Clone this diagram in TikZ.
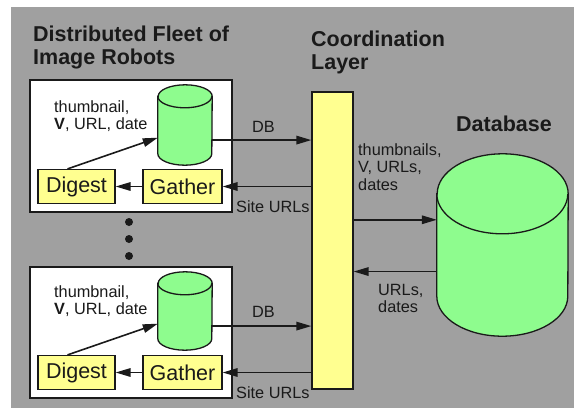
\documentclass[tikz,border=0pt]{standalone}
\usepackage{fontspec}
\setmainfont{Liberation Sans}
\usetikzlibrary{arrows.meta}

\definecolor{bggray}{HTML}{A0A0A0}
\definecolor{dbgreen}{HTML}{8EFC8E}
\definecolor{padyellow}{HTML}{FFFF90}
\definecolor{inkc}{HTML}{1A1A1A}

\tikzset{
  robotbox/.style={draw=inkc, line width=1.6pt, fill=white},
  stagebox/.style={draw=inkc, line width=1.2pt, fill=padyellow, inner sep=0pt,
    minimum height=34pt, font=\fontsize{21.5}{23}\selectfont, text=inkc},
  drumspot/.style={inner sep=0pt, draw=none},
  drumline/.style={draw=inkc, line width=1.3pt},
  heading/.style={font=\fontsize{21.5}{23}\selectfont\bfseries, text=inkc,
    align=left, inner sep=0pt},
  lbl/.style={font=\fontsize{16.3}{17.5}\selectfont, text=inkc, align=left,
    inner sep=0pt},
  flow/.style={-{Triangle[length=15pt,width=8.5pt]}, line width=1.6pt, draw=inkc},
}

% green drum drawn over the box of node #1, end radii #2 (across) and #3 (depth)
\newcommand\drum[3]{%
  \filldraw[drumline, fill=dbgreen]
    ([yshift=-#3]#1.north west) -- ([yshift=#3]#1.south west)
    arc[start angle=180, end angle=360, x radius=#2, y radius=#3]
    -- ([yshift=-#3]#1.north east)
    arc[start angle=0, end angle=180, x radius=#2, y radius=#3] -- cycle;
  \draw[drumline] ([yshift=-#3]#1.north west)
    arc[start angle=180, end angle=360, x radius=#2, y radius=#3];
}

\begin{document}
\begin{tikzpicture}[x=1pt, y=-1pt]
  \useasboundingbox (0,0) rectangle (574,408);
  \fill[bggray] (11,7) rectangle (574,408);

  % headings
  \node[heading, anchor=north west] (fleethead) at (33,26) {Distributed Fleet of\\Image Robots};
  \node[heading, anchor=north west] (coordhead) at (311,31) {Coordination\\Layer};
  \node[heading, anchor=north west] (dbhead) at (456,116) {Database};

  % coordination layer
  \node[draw=inkc, line width=1.3pt, fill=padyellow, minimum width=41pt,
    minimum height=297pt] (layer) at (332.5,240.5) {};

  % upper robot
  \node[robotbox, minimum width=202pt, minimum height=132pt] (robotA) at (131,146) {};
  \node[drumspot, minimum width=54pt, minimum height=80pt] (dbA) at (185,125) {};
  \drum{dbA}{27pt}{11.5pt}
  \node[stagebox, minimum width=77pt] (digestA) at (76.5,186.5) {Digest};
  \node[stagebox, minimum width=79pt] (gatherA) at (182.5,186.5) {Gather};
  \node[lbl, anchor=north west] (infoA) at (54,100) {thumbnail,\\\textbf{V}, URL, date};
  \draw[flow] (digestA.north) ++(-9,0) -- (dbA.205);
  \draw[flow] (gatherA) -- (digestA);
  \draw[flow] (dbA.-29) -- (dbA.-29 -| layer.west);
  \draw[flow] (gatherA.east -| layer.west) -- (gatherA.east);
  \node[lbl, anchor=base west] (dbtagA) at (252,132) {DB};
  \node[lbl, anchor=base west] (sitesA) at (236,212) {Site URLs};

  % more robots
  \fill[inkc] (129,222) circle (4);
  \fill[inkc] (129,239) circle (4);
  \fill[inkc] (129,256) circle (4);

  % lower robot
  \node[robotbox, minimum width=202pt, minimum height=131pt] (robotB) at (131,332.5) {};
  \node[drumspot, minimum width=54pt, minimum height=78pt] (dbB) at (185,311) {};
  \drum{dbB}{27pt}{11.5pt}
  \node[stagebox, minimum width=77pt] (digestB) at (76.5,372.5) {Digest};
  \node[stagebox, minimum width=79pt] (gatherB) at (182.5,372.5) {Gather};
  \node[lbl, anchor=north west] (infoB) at (54,285) {thumbnail,\\\textbf{V}, URL, date};
  \draw[flow] (digestB.north) ++(-9,0) -- (dbB.205);
  \draw[flow] (gatherB) -- (digestB);
  \draw[flow] (dbB.-29) -- (dbB.-29 -| layer.west);
  \draw[flow] (gatherB.east -| layer.west) -- (gatherB.east);
  \node[lbl, anchor=base west] (dbtagB) at (252,317) {DB};
  \node[lbl, anchor=base west] (sitesB) at (236,398) {Site URLs};

  % central database
  \node[drumspot, minimum width=131pt, minimum height=182pt] (bigdb) at (502.5,245) {};
  \drum{bigdb}{65.5pt}{40pt}
  \draw[flow] (bigdb.159 -| layer.east) -- (bigdb.159);
  \draw[flow] (bigdb.202) -- (bigdb.202 -| layer.east);
  \node[lbl, anchor=north west] (pushtag) at (358,143) {thumbnails,\\V, URLs,\\dates};
  \node[lbl, anchor=north west] (pulltag) at (378,284) {URLs,\\dates};
\end{tikzpicture}
\end{document}
